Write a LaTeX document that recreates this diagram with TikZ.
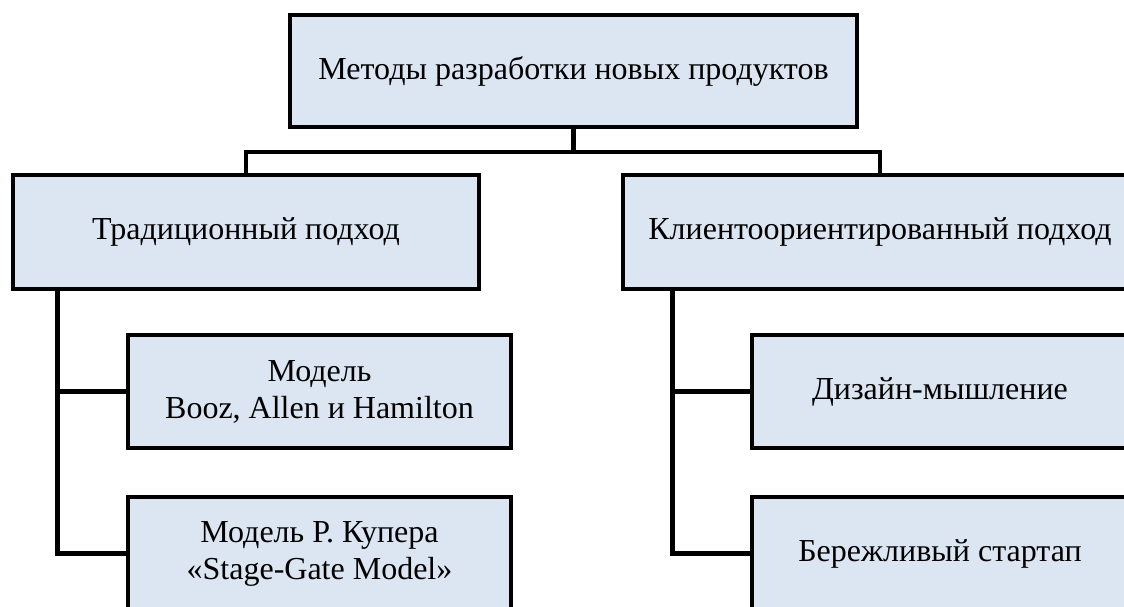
\documentclass[tikz,border=0pt]{standalone}
\usepackage{fontspec}
\setmainfont{Liberation Serif}
\definecolor{boxfill}{HTML}{DCE6F2}
\begin{document}
\begin{tikzpicture}[x=1pt,y=-1pt,
  box/.style={draw=black, line width=4.8pt, fill=boxfill, inner sep=0pt,
    align=center, font=\fontsize{32}{37}\selectfont, text=black},
  link/.style={draw=black, line width=4.8pt}]
\useasboundingbox (0,0) rectangle (1124,606);
\clip (0,0) rectangle (1124,606);
\fill[white] (0,0) rectangle (1124,606);
% boxes
\node[box, minimum width=567pt, minimum height=112pt] (top) at (573.5,71) {Методы разработки новых продуктов};
\node[box, minimum width=466pt, minimum height=114pt] (trad) at (246,232) {Традиционный подход};
\node[box, minimum width=514pt, minimum height=114pt] (client) at (880,232) {Клиентоориентированный подход};
\node[box, minimum width=383pt, minimum height=113pt] (m1) at (319.5,391.5) {Модель\\Booz, Allen и Hamilton};
\node[box, minimum width=383pt, minimum height=113pt] (m2) at (319.5,553.5) {Модель Р. Купера\\«Stage-Gate Model»};
\node[box, minimum width=376pt, minimum height=113pt] (d1) at (940,391.5) {Дизайн-мышление};
\node[box, minimum width=376pt, minimum height=113pt] (d2) at (940,553.5) {Бережливый стартап};
% connectors
\coordinate (j) at (573.5,152);
\draw[link] (top.south) -- (j);
\draw[link] (trad.north) |- (j) -| (client.north);
\draw[link] ([xshift=47pt]trad.south west) |- (m1.west);
\draw[link] ([xshift=47pt]trad.south west) |- (m2.west);
\draw[link] ([xshift=52pt]client.south west) |- (d1.west);
\draw[link] ([xshift=52pt]client.south west) |- (d2.west);
\end{tikzpicture}
\end{document}
